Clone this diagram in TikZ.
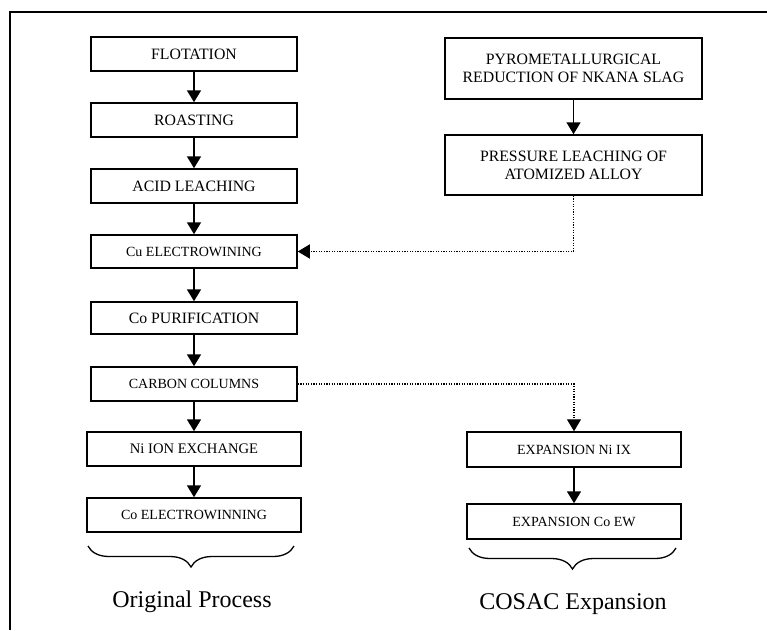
\documentclass[tikz,border=0pt]{standalone}
\usepackage{fontspec}
\setmainfont{Liberation Serif}
\usetikzlibrary{arrows.meta,decorations.pathreplacing}

\tikzset{
  stepbox/.style={draw, line width=1.5pt, inner sep=0pt, align=center,
    minimum width=206pt, minimum height=34pt, font=\fontsize{15.8}{18.3}\selectfont},
  smallbox/.style={stepbox, font=\fontsize{14}{16.5}\selectfont},
  flow/.style={line width=1.6pt, -{Triangle[width=14pt,length=12pt]}},
  feed/.style={line width=1.4pt, dash pattern=on 1.3pt off 1.3pt, -{Triangle[width=14pt,length=12pt]}},
  groupbrace/.style={decorate, decoration={brace, mirror, amplitude=21pt}, line width=1.3pt},
  caption/.style={font=\fontsize{24}{28}\selectfont}
}

\begin{document}
\begin{tikzpicture}[x=1pt, y=-1pt]
  \useasboundingbox (0,0) rectangle (767,630);

  % open frame: left and top edges
  \draw[line width=2pt] (10,630) -- (10,12) -- (767,12);

  % original process chain
  \node[stepbox] (flot)   at (194,54)    {FLOTATION};
  \node[stepbox] (roast)  at (194,120)   {ROASTING};
  \node[stepbox] (acid)   at (194,186)   {ACID LEACHING};
  \node[smallbox, minimum height=33pt] (cuew) at (194,251.5) {Cu ELECTROWINING};
  \node[stepbox, minimum height=32pt] (copur) at (194,318) {Co PURIFICATION};
  \node[smallbox] (carbon) at (194,384)  {CARBON COLUMNS};
  \node[smallbox, minimum width=214pt, font=\fontsize{14.6}{17}\selectfont] (niix) at (194,449) {Ni ION EXCHANGE};
  \node[smallbox, minimum width=214pt] (coew) at (194,515) {Co ELECTROWINNING};

  % expansion chain
  \node[stepbox, minimum width=257pt, minimum height=61pt] (pyro) at (573.5,68.5)
    {PYROMETALLURGICAL\\REDUCTION OF NKANA SLAG};
  \node[stepbox, minimum width=257pt, minimum height=60pt] (press) at (573.5,165)
    {PRESSURE LEACHING OF\\ATOMIZED ALLOY};
  \node[smallbox, minimum width=214pt, minimum height=35pt] (exnix) at (574,449.5) {EXPANSION Ni IX};
  \node[smallbox, minimum width=214pt, minimum height=35pt] (excoew) at (574,521.5) {EXPANSION Co EW};

  % main flow
  \draw[flow] (flot) -- (roast);
  \draw[flow] (roast) -- (acid);
  \draw[flow] (acid) -- (cuew);
  \draw[flow] (cuew) -- (copur);
  \draw[flow] (copur) -- (carbon);
  \draw[flow] (carbon) -- (niix);
  \draw[flow] (niix) -- (coew);
  \draw[flow] (pyro) -- (press);
  \draw[flow] (exnix) -- (excoew);

  % cross feeds
  \draw[feed] (press.south) |- (cuew.east);
  \draw[feed] (carbon.east) -| (exnix.north);

  % group braces and captions
  \draw[groupbrace] (88,546) -- (294,546);
  \draw[groupbrace] (469,548) -- (676,548);
  \node[caption] (orig) at (192,602) {Original Process};
  \node[caption] (cosac) at (573,604) {COSAC Expansion};
\end{tikzpicture}
\end{document}
